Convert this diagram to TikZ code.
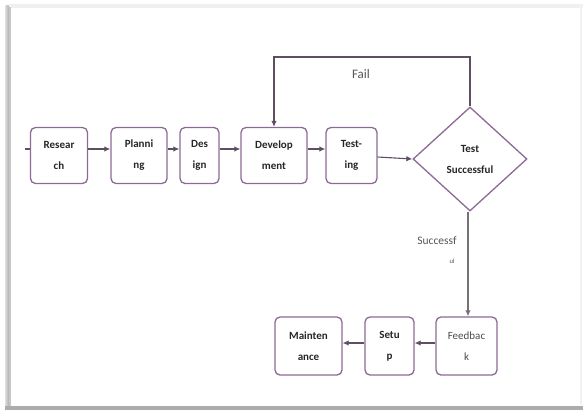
\documentclass[tikz,border=0pt]{standalone}
\usepackage{fontspec}
\setmainfont{Carlito}
\usetikzlibrary{shapes.geometric,arrows.meta}
\definecolor{boxline}{HTML}{8C6A94}
\definecolor{conn}{HTML}{5E4E62}
\definecolor{lbl}{HTML}{555555}
\tikzset{
  stepbox/.style={draw=boxline, line width=1.3pt, rounded corners=5pt, fill=white,
    minimum height=56pt, inner sep=1pt, align=center,
    font=\fontsize{11}{21}\selectfont\bfseries, text=black!85},
  decision/.style={draw=boxline, line width=1.3pt, shape=diamond, aspect=1.1,
    minimum width=114pt, minimum height=104pt, inner sep=0pt, align=center,
    font=\fontsize{11}{21}\selectfont\bfseries, text=black!85},
  conn/.style={draw=conn, line width=1.1pt, -{Latex[length=6pt,width=5.5pt]}},
  plainconn/.style={draw=conn, line width=1.1pt},
  lbl/.style={font=\fontsize{13}{14}\selectfont, text=lbl}
}
\begin{document}
\begin{tikzpicture}[x=1pt,y=-1pt]
\useasboundingbox (0,0) rectangle (583,410);
% frame with shadow
\fill[white] (5,5) rectangle (582,408);
\fill[gray!12] (9,4) rectangle (583,7.5);
\shade[left color=gray!25, right color=gray!60] (5,5) rectangle (8.5,408);
\fill[gray!45] (8.5,7) rectangle (10.5,408);
\fill[gray!10] (579.5,7) rectangle (582,405);
\fill[gray!65] (5,405.5) rectangle (583,410);

% nodes
\node[stepbox, minimum width=57pt] (research) at (59,155.5) {Resear\\ch};
\node[stepbox, minimum width=56pt] (planning) at (139,155.5) {Planni\\ng};
\node[stepbox, minimum width=39pt] (design) at (199.5,155.5) {Des\\ign};
\node[stepbox, minimum width=66pt] (dev) at (274,155.5) {Develop\\ment};
\node[stepbox, minimum width=51pt] (testing) at (351.5,155.5) {Test-\\ing};
\node[decision] (diamond) at (470,159) {Test\\Successful};
\node[stepbox, minimum width=61pt, minimum height=58pt, font=\fontsize{11}{21}\selectfont, text=black!70] (feedback) at (466.5,346) {Feedbac\\k};
\node[stepbox, minimum width=49pt, minimum height=58pt] (setup) at (389.5,346) {Setu\\p};
\node[stepbox, minimum width=67pt, minimum height=58pt] (maint) at (308.5,346) {Mainten\\ance};

% labels
\node[lbl] (fail) at (361,74) {Fail};
\node[lbl, font=\fontsize{11.5}{12}\selectfont] (succ) at (437,241) {Successf};
\node[lbl, font=\fontsize{6.5}{7}\selectfont] (succ2) at (452,261) {ul};

% connectors
\coordinate (instub) at (25,149);
\draw[plainconn] (instub) -- ([yshift=6.5pt]research.west);
\draw[conn] ([yshift=6.5pt]research.east) -- ([yshift=6.5pt]planning.west);
\draw[conn] ([yshift=6.5pt]planning.east) -- ([yshift=6.5pt]design.west);
\draw[conn] ([yshift=6.5pt]design.east) -- ([yshift=6.5pt]dev.west);
\draw[conn] ([yshift=6.5pt]dev.east) -- ([yshift=6.5pt]testing.west);
\draw[conn] ([yshift=-1.5pt]testing.east) -- (diamond.west);
\coordinate (failcorner) at (470,57);
\draw[conn] (diamond.north) -- (failcorner) -| (dev.north);
\draw[conn, draw=gray!70!conn] ([xshift=-2pt]diamond.south) -- ([xshift=-2pt]diamond.south |- feedback.north);
\draw[conn] ([yshift=3pt]feedback.west) -- ([yshift=3pt]setup.east);
\draw[conn] ([yshift=3pt]setup.west) -- ([yshift=3pt]maint.east);
\end{tikzpicture}
\end{document}
